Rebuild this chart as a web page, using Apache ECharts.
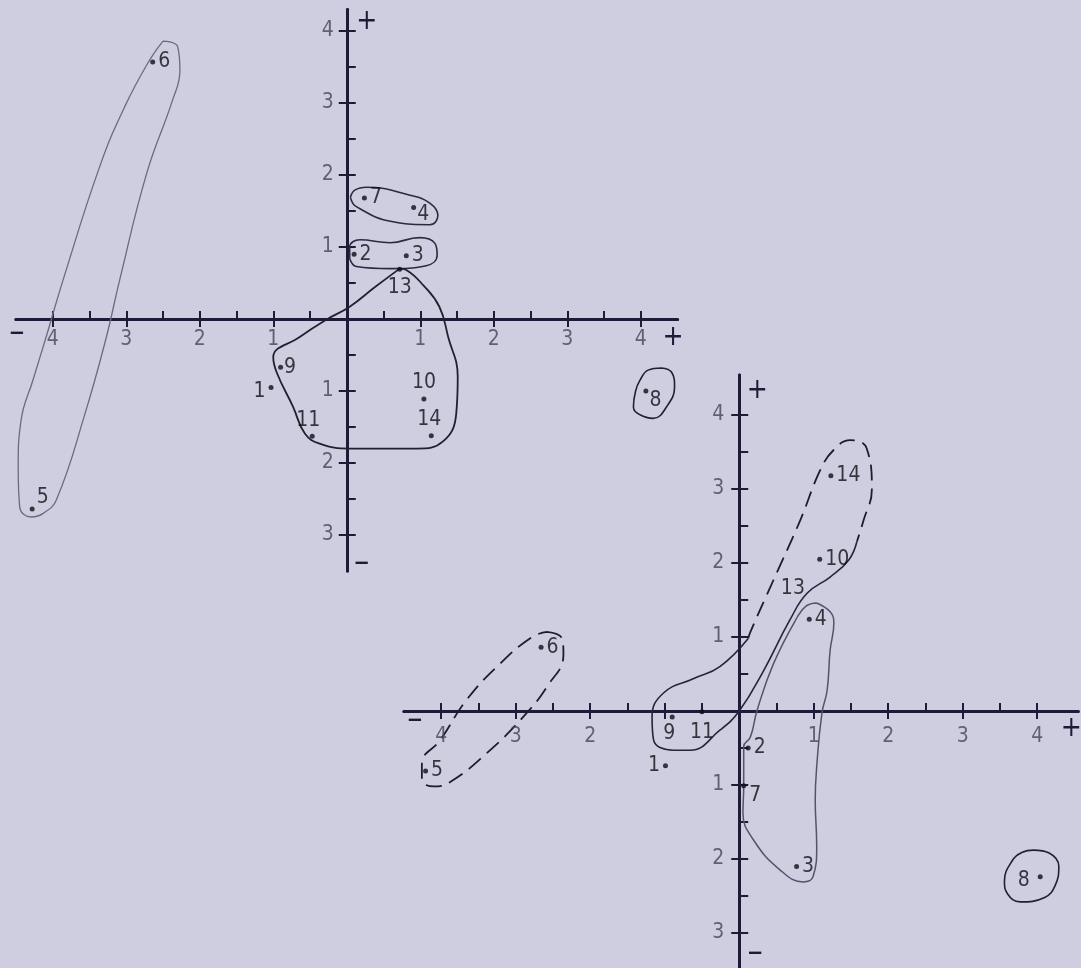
<!DOCTYPE html>
<html>
<head>
<meta charset="utf-8">
<script src="https://cdn.jsdelivr.net/npm/echarts@6/dist/echarts.min.js"></script>
<style>
  html, body { margin: 0; padding: 0; background: #cfcde0; }
  #chart { width: 1081px; height: 968px; }
</style>
</head>
<body>
<div id="chart"></div>
<script>
// ---- upper plot (plot 1) ----
const names1 = ['1', '2', '3', '4', '5', '6', '7', '8', '9', '10', '11', '13', '14'];
const xs1 = [-1.03, 0.10, 0.81, 0.91, -4.28, -2.64, 0.24, 4.07, -0.90, 1.05, -0.47, 0.72, 1.15];
const ys1 = [-0.95, 0.90, 0.88, 1.55, -2.64, 3.57, 1.68, -1.00, -0.67, -1.11, -1.63, 0.69, -1.62];

// group outlines, plot 1
const group56a = [[-2.50, 3.86], [-2.30, 3.78], [-2.27, 3.45], [-2.37, 3.04], [-2.72, 2.03], [-3.09, 0.54],
  [-3.27, -0.25], [-3.56, -1.31], [-3.95, -2.51], [-4.13, -2.70], [-4.29, -2.75], [-4.45, -2.61],
  [-4.47, -2.05], [-4.43, -1.40], [-4.27, -0.85], [-4.09, -0.25], [-3.86, 0.54], [-3.36, 2.12],
  [-3.02, 2.95], [-2.68, 3.60], [-2.50, 3.86]];
const group74a = [[0.05, 1.69], [0.11, 1.79], [0.27, 1.83], [0.86, 1.72], [1.13, 1.61], [1.24, 1.44],
  [1.13, 1.31], [0.63, 1.35], [0.13, 1.56], [0.05, 1.69]];
const group23a = [[0.04, 0.84], [0.04, 1.00], [0.18, 1.10], [0.59, 1.06], [0.99, 1.13], [1.20, 1.05],
  [1.23, 0.89], [1.08, 0.74], [0.59, 0.70], [0.13, 0.73], [0.04, 0.84]];
const groupBigA = [[0.72, 0.70], [0.38, 0.44], [0.04, 0.17], [-0.28, -0.01], [-0.64, -0.25], [-1.00, -0.53],
  [-0.95, -0.75], [-0.73, -1.22], [-0.57, -1.59], [-0.37, -1.73], [0.04, -1.80], [0.95, -1.80],
  [1.31, -1.70], [1.49, -1.31], [1.51, -0.80], [1.38, -0.25], [1.26, 0.17], [1.04, 0.47],
  [0.81, 0.68], [0.72, 0.70]];
const group8a = [[4.28, -0.68], [4.42, -0.74], [4.46, -0.94], [4.37, -1.19], [4.17, -1.38], [3.99, -1.33],
  [3.90, -1.22], [3.93, -1.00], [3.99, -0.85], [4.10, -0.71], [4.28, -0.68]];

// ---- lower plot (plot 2) ----
const names2 = ['1', '2', '3', '4', '5', '6', '7', '8', '9', '10', '11', '13', '14'];
const xs2 = [-0.99, 0.12, 0.77, 0.94, -4.21, -2.66, 0.06, 4.04, -0.90, 1.08, -0.50, 0.72, 1.23];
const ys2 = [-0.74, -0.50, -2.10, 1.24, -0.81, 0.86, -1.01, -2.24, -0.08, 2.05, -0.01, 1.65, 3.18];

const group56b = [[-2.58, 1.07], [-2.38, 0.98], [-2.36, 0.76], [-2.58, 0.33], [-2.90, -0.08], [-3.39, -0.57],
  [-3.88, -0.96], [-4.10, -1.02], [-4.26, -0.93], [-4.26, -0.71], [-4.01, -0.39], [-3.66, 0.15],
  [-3.21, 0.64], [-2.78, 1.00], [-2.58, 1.07]];
const groupTopB = [[0.12, 0.98], [0.15, 1.07], [0.46, 1.77], [0.82, 2.58], [1.09, 3.26], [1.27, 3.53],
  [1.49, 3.66], [1.71, 3.55], [1.78, 2.99], [1.67, 2.58], [1.58, 2.29]];
const groupLowB = [[1.58, 2.29], [1.47, 2.04], [1.22, 1.81], [0.91, 1.59], [0.68, 1.23], [0.33, 0.55],
  [0, 0], [-0.26, -0.26], [-0.66, -0.53], [-0.88, -0.53], [-1.15, -0.39], [-1.17, -0.08],
  [-1.02, 0.24], [-0.61, 0.44], [-0.26, 0.60], [0.12, 0.98]];
const group4b = [[1.04, 1.46], [1.22, 1.34], [1.27, 1.19], [1.22, 0.82], [1.18, 0.28], [1.11, -0.03],
  [1.04, -0.75], [1.02, -1.20], [1.04, -1.83], [0.99, -2.24], [0.86, -2.31], [0.55, -2.15],
  [0.19, -1.74], [0.05, -1.38], [0.06, -1.02], [0.06, -0.48], [0.15, -0.35], [0.24, 0.01],
  [0.46, 0.64], [0.78, 1.27], [0.90, 1.42], [1.04, 1.46]];
const group8b = [[3.95, -1.88], [4.16, -1.92], [4.29, -2.10], [4.24, -2.36], [4.10, -2.52], [3.77, -2.58],
  [3.60, -2.47], [3.56, -2.30], [3.66, -2.03], [3.80, -1.91], [3.95, -1.88]];

// ---- ticks ----
const xTicks = [-4, -3.5, -3, -2.5, -2, -1.5, -1, -0.5, 0.5, 1, 1.5, 2, 2.5, 3, 3.5, 4];
const xMajor = [-4, -3, -2, -1, 1, 2, 3, 4];
const xNumbers1 = [-4, -3, -2, -1, 1, 2, 3, 4];
const xNumbers2 = [-4, -3, -2, 1, 2, 3, 4]; // the "1" left of zero is covered by point 9
const yTicks = [-3, -2.5, -2, -1.5, -1, -0.5, 0.5, 1, 1.5, 2, 2.5, 3, 3.5, 4];
const yMajor = [-3, -2, -1, 1, 2, 3, 4];

// label placement (style only)
const place1 = {
  '1': { position: 'left', distance: 3, offset: [0, 4] },
  '4': { offset: [0, 7], distance: 1 },
  '5': { offset: [0, -12], distance: 2 },
  '8': { offset: [0, 10], distance: 1 },
  '9': { distance: 1 },
  '10': { position: 'top', distance: 3 },
  '11': { position: 'top', distance: 3, offset: [-4, 0] },
  '13': { position: 'bottom', distance: 5 },
  '14': { position: 'top', distance: 3, offset: [-2, 0] }
};
const place2 = {
  '1': { position: 'left', distance: 3 },
  '7': { offset: [0, 10], distance: 3 },
  '8': { position: 'left', distance: 8, offset: [0, 4] },
  '9': { position: 'bottom', distance: 4, offset: [-3, 0] },
  '11': { position: 'bottom', distance: 8 },
  '13': { position: 'inside' }
};

const AXIS = '#1d1b38';
const INK = '#0e0e14';
const TICKTXT = '#46445a';
const FONT = '"DejaVu Sans Condensed", "DejaVu Sans", sans-serif';

function xAxes(gridIndex, min, max) {
  return [
    {
      type: 'value', gridIndex, position: 'bottom', min, max,
      axisLine: { onZero: true, lineStyle: { color: AXIS, width: 3 } },
      axisTick: { inside: true, length: 8, customValues: xTicks, lineStyle: { color: AXIS, width: 2 } },
      axisLabel: { show: false },
      splitLine: { show: false }
    },
    {
      type: 'value', gridIndex, position: 'top', min, max,
      axisLine: { onZero: true, lineStyle: { color: AXIS, width: 3 } },
      axisTick: { inside: true, length: 8, customValues: xMajor, lineStyle: { color: AXIS, width: 2 } },
      axisLabel: { show: false },
      splitLine: { show: false }
    }
  ];
}

function yAxes(gridIndex, min, max) {
  return [
    {
      type: 'value', gridIndex, position: 'left', min, max,
      axisLine: { onZero: true, lineStyle: { color: AXIS, width: 3 } },
      axisTick: { inside: true, length: 9, customValues: yTicks, lineStyle: { color: AXIS, width: 2 } },
      axisLabel: { show: false },
      splitLine: { show: false }
    },
    {
      type: 'value', gridIndex, position: 'right', min, max,
      axisLine: { onZero: true, lineStyle: { color: AXIS, width: 3 } },
      axisTick: { inside: true, length: 8, customValues: yMajor, lineStyle: { color: AXIS, width: 2 } },
      axisLabel: { show: false },
      splitLine: { show: false }
    }
  ];
}

// tick numbers, placed on the crossing axes
function tickLabels(axisIndex, values, dim, distance) {
  return {
    type: 'scatter', xAxisIndex: axisIndex, yAxisIndex: axisIndex,
    symbolSize: 0, silent: true, clip: false, z: 4,
    label: {
      show: true, position: dim === 'x' ? 'bottom' : 'left', distance,
      formatter: (p) => String(Math.abs(dim === 'x' ? p.value[0] : p.value[1])),
      fontSize: 21, color: TICKTXT, fontFamily: FONT
    },
    data: values.map((v) => (dim === 'x' ? [v, 0] : [0, v]))
  };
}

function points(axisIndex, names, xs, ys, place) {
  return {
    type: 'scatter', xAxisIndex: axisIndex, yAxisIndex: axisIndex,
    symbolSize: 5, itemStyle: { color: INK }, z: 5, clip: false,
    label: {
      show: true, formatter: '{b}', position: 'right', distance: 3,
      fontSize: 21, color: INK, fontFamily: FONT
    },
    data: names.map((n, i) => ({
      name: n,
      value: [xs[i], ys[i]],
      symbolSize: place[n] && place[n].position === 'inside' ? 0 : 5,
      label: Object.assign({}, place[n] || {})
    }))
  };
}

function outline(axisIndex, data, color, width, type) {
  return {
    type: 'line', xAxisIndex: axisIndex, yAxisIndex: axisIndex, data,
    smooth: 0.45, symbol: 'none', silent: true, clip: false, z: 2,
    lineStyle: { color, width, type: type || 'solid' }
  };
}

const chart = echarts.init(document.getElementById('chart'), null, { renderer: 'canvas' });

chart.setOption({
  backgroundColor: '#cfcde0',
  animation: false,
  grid: [
    { left: 16, top: 9.4, width: 661.5, height: 561.6, containLabel: false, outerBoundsMode: 'none' },
    { left: 404, top: 375, width: 674.2, height: 595, containLabel: false, outerBoundsMode: 'none' }
  ],
  xAxis: [...xAxes(0, -4.5, 4.5), ...xAxes(1, -4.5, 4.55)],
  yAxis: [...yAxes(0, -3.5, 4.3), ...yAxes(1, -3.5, 4.54)],
  series: [
    tickLabels(0, xNumbers1, 'x', 10),
    tickLabels(0, yMajor, 'y', 13),
    outline(0, group56a, '#6c6a80', 1.3),
    outline(0, group74a, '#2c2a3e', 1.6),
    outline(0, group23a, '#2c2a3e', 1.6),
    outline(0, groupBigA, '#222030', 1.8),
    outline(0, group8a, '#222030', 1.6),
    points(0, names1, xs1, ys1, place1),
    tickLabels(2, xNumbers2, 'x', 15),
    tickLabels(2, yMajor, 'y', 15),
    outline(2, group56b, '#1e1c2c', 1.8, [16, 8]),
    outline(2, groupTopB, '#1e1c2c', 1.8, [16, 8]),
    outline(2, groupLowB, '#262436', 1.6),
    outline(2, group4b, '#55536a', 1.5),
    outline(2, group8b, '#222030', 1.6),
    points(2, names2, xs2, ys2, place2)
  ]
});

// plus / minus signs at the axis ends
function sign(gridIndex, at, dx, dy, text) {
  const p = chart.convertToPixel({ gridIndex }, at);
  return {
    type: 'text', x: p[0] + dx, y: p[1] + dy, z: 10,
    style: {
      text, fill: AXIS, fontFamily: FONT,
      fontSize: text === '+' ? 28 : 34, align: 'center', verticalAlign: 'middle'
    }
  };
}

chart.setOption({
  graphic: [
    sign(0, [4.5, 0], -4.5, 19, '+'),
    sign(0, [-4.5, 0], 1, 14, '–'),
    sign(0, [0, 4.3], 20, 12, '+'),
    sign(0, [0, -3.5], 15, -8, '–'),
    sign(1, [4.55, 0], -7, 18, '+'),
    sign(1, [-4.5, 0], 11, 9, '–'),
    sign(1, [0, 4.54], 18, 16, '+'),
    sign(1, [0, -3.5], 16, -17, '–')
  ]
});
</script>
</body>
</html>
